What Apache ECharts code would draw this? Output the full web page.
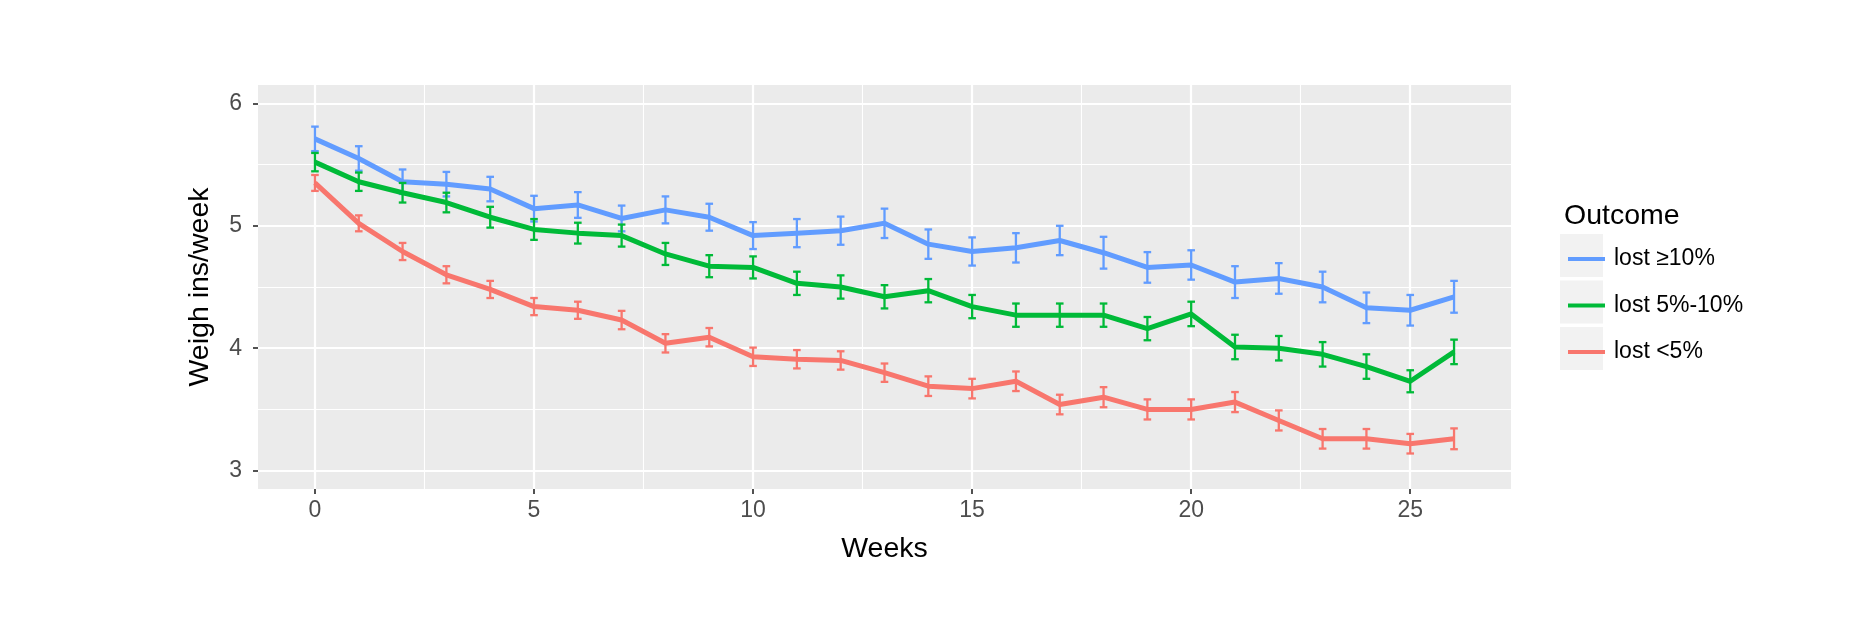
<!DOCTYPE html>
<html>
<head>
<meta charset="utf-8">
<script src="https://cdn.jsdelivr.net/npm/echarts@6/dist/echarts.min.js"></script>
<style>
html,body{margin:0;padding:0;background:#fff;}
#chart{width:1862px;height:624px;}
</style>
</head>
<body>
<div id="chart"></div>
<script>
// ---- data ----
const weeks = [0,1,2,3,4,5,6,7,8,9,10,11,12,13,14,15,16,17,18,19,20,21,22,23,24,25,26];
const seriesNames = ['lost ≥10%', 'lost 5%-10%', 'lost <5%'];
const lost10 = [5.71,5.55,5.36,5.34,5.30,5.14,5.17,5.06,5.13,5.07,4.92,4.94,4.96,5.02,4.85,4.79,4.82,4.88,4.78,4.66,4.68,4.54,4.57,4.50,4.33,4.31,4.42];
const lost10Err = [0.10,0.10,0.10,0.10,0.10,0.105,0.105,0.105,0.11,0.11,0.11,0.115,0.115,0.12,0.12,0.115,0.12,0.12,0.13,0.125,0.12,0.13,0.125,0.125,0.125,0.125,0.13];
const lost5to10 = [5.52,5.36,5.27,5.19,5.07,4.97,4.94,4.92,4.77,4.67,4.66,4.53,4.50,4.42,4.47,4.34,4.27,4.27,4.27,4.16,4.28,4.01,4.00,3.95,3.85,3.73,3.97];
const lost5to10Err = [0.075,0.075,0.08,0.08,0.085,0.085,0.085,0.09,0.09,0.09,0.09,0.095,0.095,0.095,0.095,0.095,0.095,0.095,0.095,0.095,0.10,0.10,0.10,0.10,0.10,0.09,0.10];
const lostUnder5 = [5.35,5.02,4.79,4.60,4.48,4.34,4.31,4.23,4.04,4.09,3.93,3.91,3.90,3.80,3.69,3.67,3.73,3.54,3.60,3.50,3.50,3.56,3.41,3.26,3.26,3.22,3.26];
const lostUnder5Err = [0.065,0.065,0.07,0.07,0.07,0.07,0.07,0.075,0.075,0.075,0.075,0.075,0.075,0.075,0.08,0.08,0.08,0.08,0.082,0.082,0.082,0.082,0.082,0.08,0.08,0.08,0.085];
const xTicks = [0,5,10,15,20,25];
const xMinor = [2.5,7.5,12.5,17.5,22.5];
const yTicks = [3,4,5,6];
const yMinor = [3.5,4.5,5.5];
const colors = ['#619CFF', '#00BA38', '#F8766D'];

// ---- build ----
const values = [lost10, lost5to10, lostUnder5];
const errs = [lost10Err, lost5to10Err, lostUnder5Err];
const FONT = 'Liberation Sans, Arial, Helvetica, sans-serif';

function makeErr(idx){
  const col = colors[idx];
  return {
    type: 'custom',
    name: 'err' + idx,
    z: 5 + idx,
    silent: true,
    encode: {x: 0, y: [1, 2]},
    data: weeks.map((w, i) => [w, values[idx][i] - errs[idx][i], values[idx][i] + errs[idx][i]]),
    renderItem: function(params, api){
      const x = api.value(0);
      const lo = api.coord([x, api.value(1)]);
      const hi = api.coord([x, api.value(2)]);
      const cap = 3.8;
      const st = {stroke: col, lineWidth: 2.3};
      return {type: 'group', children: [
        {type: 'line', shape: {x1: lo[0], y1: lo[1], x2: hi[0], y2: hi[1]}, style: st},
        {type: 'line', shape: {x1: lo[0]-cap, y1: lo[1], x2: lo[0]+cap, y2: lo[1]}, style: st},
        {type: 'line', shape: {x1: hi[0]-cap, y1: hi[1], x2: hi[0]+cap, y2: hi[1]}, style: st}
      ]};
    }
  };
}
function makeLine(idx){
  return {
    type: 'line',
    name: seriesNames[idx],
    color: colors[idx],
    z: 5 + idx,
    symbol: 'none',
    silent: true,
    lineStyle: {width: 5, color: colors[idx], join: 'round'},
    data: weeks.map((w, i) => [w, values[idx][i]])
  };
}

const gridLines = {
  type: 'line',
  name: 'grid',
  z: 1,
  silent: true,
  data: [],
  markLine: {
    silent: true,
    symbol: ['none', 'none'],
    label: {show: false},
    animation: false,
    data: [].concat(
      xMinor.map(v => ({xAxis: v, lineStyle: {color: '#fff', width: 1.1, type: 'solid'}})),
      yMinor.map(v => ({yAxis: v, lineStyle: {color: '#fff', width: 1.1, type: 'solid'}})),
      xTicks.map(v => ({xAxis: v, lineStyle: {color: '#fff', width: 2.2, type: 'solid'}})),
      yTicks.map(v => ({yAxis: v, lineStyle: {color: '#fff', width: 2.2, type: 'solid'}}))
    )
  }
};

const chart = echarts.init(document.getElementById('chart'), null, {renderer: 'canvas'});
chart.setOption({
  animation: false,
  backgroundColor: '#ffffff',
  textStyle: {fontFamily: FONT},
  title: {
    text: 'Outcome', left: 1559, top: 197,
    textStyle: {fontSize: 28.5, fontWeight: 'normal', color: '#000', fontFamily: FONT}
  },
  graphic: [
    {type: 'rect', left: 1560, top: 234, shape: {width: 43, height: 43}, style: {fill: '#F2F2F2'}, z: 0},
    {type: 'rect', left: 1560, top: 280.5, shape: {width: 43, height: 43}, style: {fill: '#F2F2F2'}, z: 0},
    {type: 'rect', left: 1560, top: 327, shape: {width: 43, height: 43}, style: {fill: '#F2F2F2'}, z: 0}
  ],
  legend: {
    orient: 'vertical',
    left: 1563, top: 239,
    icon: 'rect',
    itemWidth: 37, itemHeight: 4,
    itemGap: 16.5,
    selectedMode: false,
    z: 10,
    data: seriesNames,
    textStyle: {fontSize: 23, color: '#000', fontFamily: FONT, lineHeight: 30, padding: [0, 0, 0, 4]}
  },
  grid: {left: 258, top: 85, width: 1253, height: 404, show: true, backgroundColor: '#EBEBEB', borderWidth: 0, containLabel: false},
  xAxis: {
    type: 'value', min: -1.3, max: 27.3,
    name: 'Weeks', nameLocation: 'middle', nameGap: 46,
    nameTextStyle: {fontSize: 28.5, color: '#000', fontFamily: FONT},
    axisLine: {show: true, onZero: false, lineStyle: {color: 'rgba(0,0,0,0)', width: 0}},
    axisTick: {show: true, customValues: xTicks, length: 5, lineStyle: {color: '#333', width: 1.7}},
    axisLabel: {customValues: xTicks, margin: 10, fontSize: 23, color: '#4D4D4D', fontFamily: FONT},
    splitLine: {show: false}
  },
  yAxis: {
    type: 'value', min: 2.85, max: 6.15,
    name: 'Weigh ins/week', nameLocation: 'middle', nameGap: 43, nameRotate: 90,
    nameTextStyle: {fontSize: 28.5, color: '#000', fontFamily: FONT},
    axisLine: {show: true, onZero: false, lineStyle: {color: 'rgba(0,0,0,0)', width: 0}},
    axisTick: {show: true, customValues: yTicks, length: 5, lineStyle: {color: '#333', width: 1.7}},
    axisLabel: {customValues: yTicks, margin: 16, fontSize: 23, color: '#4D4D4D', fontFamily: FONT},
    splitLine: {show: false}
  },
  series: [gridLines, makeErr(2), makeLine(2), makeErr(1), makeLine(1), makeErr(0), makeLine(0)]
});
</script>
</body>
</html>
